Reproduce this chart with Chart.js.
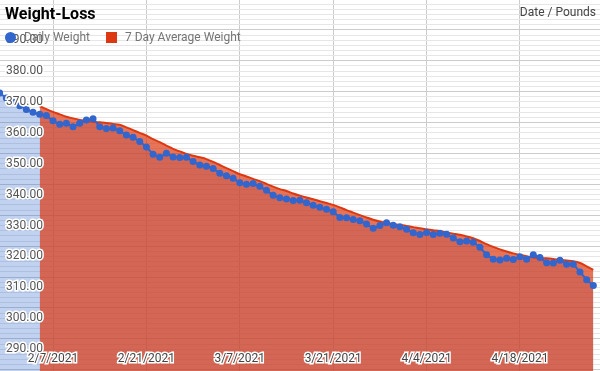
<!DOCTYPE html>
<html>
<head>
<meta charset="utf-8">
<script src="https://cdn.jsdelivr.net/npm/chart.js@4/dist/chart.umd.min.js"></script>
<style>
  html, body { margin: 0; padding: 0; background: #fff; }
  #wrap { position: relative; width: 600px; height: 371px; overflow: hidden; font-family: Roboto, sans-serif; }
  #chart { position: absolute; left: 0; top: 0; }
  .title { position: absolute; left: 5px; top: 4px; font-size: 16px; font-weight: bold; color: #000; }
  .note { position: absolute; right: 4px; top: 5px; font-size: 12px; color: #444; }
  #legend { position: absolute; left: 5px; top: 30px; display: flex; align-items: center; font-size: 12px; line-height: 14px; color: #757575; }
  #legend .item { display: flex; align-items: center; margin-right: 16px; }
  #legend .swatch { width: 11px; height: 11px; margin-right: 8px; }
</style>
</head>
<body>
<div id="wrap">
  <canvas id="chart" width="600" height="371"></canvas>
  <div class="title">Weight-Loss</div>
  <div class="note">Date / Pounds</div>
  <div id="legend"></div>
</div>
<script>
// days are counted from 2/7/2021; first weigh-in was 1/30/2021
const firstDay = -8;
const dailyWeight = [
    372.9, 371.3, 370.0, 368.8, 367.6, 366.7, 366.0, 365.6,
    363.9, 362.8, 363.1, 362.0, 363.1, 364.2, 364.6, 362.0, 361.4, 361.6, 360.7, 359.3, 358.6, 357.2,
    355.4, 353.1, 352.1, 353.4, 352.2, 352.0, 352.1, 350.7, 349.6, 349.2, 348.5, 346.9, 346.1, 345.3,
    343.9, 343.4, 343.6, 342.7, 341.4, 339.8, 339.0, 338.6, 338.1, 338.2, 337.4, 336.6, 335.9, 335.3,
    334.5, 332.6, 332.5, 332.0, 331.6, 330.5, 329.1, 330.0, 330.9, 330.1, 329.6, 328.8, 327.7, 327.1,
    327.8, 327.1, 327.5, 327.2, 326.0, 324.8, 325.0, 324.6, 323.0, 320.6, 319.1, 318.9, 319.4, 319.0,
    319.9, 319.1, 320.6, 319.7, 318.0, 317.9, 318.8, 317.5, 317.5, 315.0, 312.5, 310.6,
];

// the 7 day average only starts once a full week is in
const avgFirstDay = -2;
const avgWeight = [
    368.7, 367.7,
    366.8, 366.0, 365.2, 364.7, 364.2, 363.9, 363.6, 363.4, 363.2, 362.9, 362.6, 361.8, 360.9, 360.0,
    359.1, 358.0, 357.0, 355.9, 354.8, 354.0, 353.2, 352.6, 352.1, 351.5, 350.6, 349.6, 348.6, 347.6,
    346.6, 345.9, 345.1, 344.4, 343.5, 342.6, 341.8, 341.2, 340.4, 339.7, 339.1, 338.5, 337.9, 337.3,
    336.7, 335.9, 335.0, 334.2, 333.4, 332.6, 331.9, 331.3, 330.9, 330.5, 330.2, 329.9, 329.5, 329.1,
    328.8, 328.5, 328.2, 327.8, 327.4, 327.0, 326.5, 325.9, 325.0, 324.0, 323.1, 322.3, 321.6, 321.0,
    320.5, 320.1, 319.7, 319.5, 319.4, 319.2, 318.9, 318.7, 318.5, 317.9, 316.8, 315.7,
];

const tickDays = [0, 14, 28, 42, 56, 70];
const tickLabels = ['2/7/2021', '2/21/2021', '3/7/2021', '3/21/2021', '4/4/2021', '4/18/2021'];
const yLabels = [290, 300, 310, 320, 330, 340, 350, 360, 370, 380, 390];

const xMin = -7.95, xMax = 82;
const yMin = 282.94, yMax = 403.0;
// sheets draws six grid steps per labelled step, with the dark line offset by two
const gridStep = 10 / 6;

const blue = '#3366cc';
const red = '#dc3912';

const dailyPoints = dailyWeight.map((y, i) => ({ x: firstDay + i, y }));
const avgPoints = avgWeight.map((y, i) => ({ x: avgFirstDay + i, y }));

const gridIndex = (v) => Math.round((v - yLabels[0]) / gridStep);
const yGrid = [];
for (let k = gridIndex(yMin) - 1; k <= gridIndex(yMax) + 1; k++) {
    const v = yLabels[0] + k * gridStep;
    if (v >= yMin && v <= yMax) yGrid.push(v);
}
const isLabelled = (v) => yLabels.some((l) => Math.abs(l - v) < 1e-6);

const flatten = (axis) => {
    axis.paddingLeft = 0;
    axis.paddingRight = 0;
    axis.paddingTop = 0;
    axis.paddingBottom = 0;
};

const labelFont = { family: 'Roboto', size: 12 };

const chart = new Chart(document.getElementById('chart'), {
    type: 'line',
    data: {
        datasets: [
            {
                label: 'Daily Weight',
                data: dailyPoints,
                borderColor: blue,
                backgroundColor: blue,
                borderWidth: 2,
                pointStyle: 'circle',
                pointRadius: 3.5,
                pointBorderWidth: 0,
                fill: false,
                order: 0,
            },
            {
                label: '7 Day Average Weight',
                data: avgPoints,
                borderColor: red,
                backgroundColor: red,
                borderWidth: 2,
                pointStyle: 'rect',
                pointRadius: 0,
                cubicInterpolationMode: 'monotone',
                fill: { target: 'start', above: 'rgba(220, 57, 18, 0.7)', below: 'rgba(220, 57, 18, 0.7)' },
                order: 1,
            },
            {
                // pale area under the daily line, kept underneath the average fill
                data: dailyPoints,
                borderColor: 'rgba(0, 0, 0, 0)',
                backgroundColor: 'rgba(51, 102, 204, 0.3)',
                borderWidth: 0,
                pointRadius: 0,
                fill: 'start',
                order: 2,
            },
        ],
    },
    options: {
        responsive: false,
        animation: false,
        layout: { padding: 0, autoPadding: false },
        plugins: {
            legend: { display: false },
            title: { display: false },
            tooltip: { enabled: false },
        },
        scales: {
            x: {
                type: 'linear',
                min: xMin,
                max: xMax,
                afterBuildTicks: (axis) => { axis.ticks = tickDays.map((value) => ({ value })); },
                afterFit: (axis) => { axis.height = 0; flatten(axis); },
                grid: { color: '#cccccc', drawTicks: false },
                border: { display: false },
                ticks: {
                    mirror: true,
                    padding: 5,
                    autoSkip: false,
                    maxRotation: 0,
                    color: '#444',
                    font: labelFont,
                    textStrokeColor: '#fff',
                    textStrokeWidth: 3,
                    z: 1,
                    callback: (v) => tickLabels[tickDays.indexOf(v)],
                },
            },
            y: {
                type: 'linear',
                min: yMin,
                max: yMax,
                afterBuildTicks: (axis) => { axis.ticks = yGrid.map((value) => ({ value })); },
                afterFit: (axis) => { axis.width = 0; flatten(axis); },
                grid: {
                    drawTicks: false,
                    color: (ctx) => {
                        const k = gridIndex(ctx.tick.value);
                        return ((k % 6) + 6) % 6 === 2 ? '#cccccc' : '#e6e6e6';
                    },
                },
                border: { display: false },
                ticks: {
                    mirror: true,
                    padding: 6,
                    autoSkip: false,
                    color: '#555',
                    font: labelFont,
                    textStrokeColor: '#fff',
                    textStrokeWidth: 3,
                    z: 1,
                    callback: (v) => (isLabelled(v) ? v.toFixed(2) : ''),
                },
            },
        },
    },
});

// legend sits over the plot, same as the sheets export
const legendEl = document.getElementById('legend');
chart.data.datasets.filter((ds) => ds.label).forEach((ds) => {
    const item = document.createElement('div');
    item.className = 'item';
    const swatch = document.createElement('span');
    swatch.className = 'swatch';
    swatch.style.background = ds.borderColor;
    swatch.style.borderRadius = ds.pointStyle === 'circle' ? '50%' : '0';
    const text = document.createElement('span');
    text.textContent = ds.label;
    item.append(swatch, text);
    legendEl.append(item);
});
</script>
</body>
</html>
